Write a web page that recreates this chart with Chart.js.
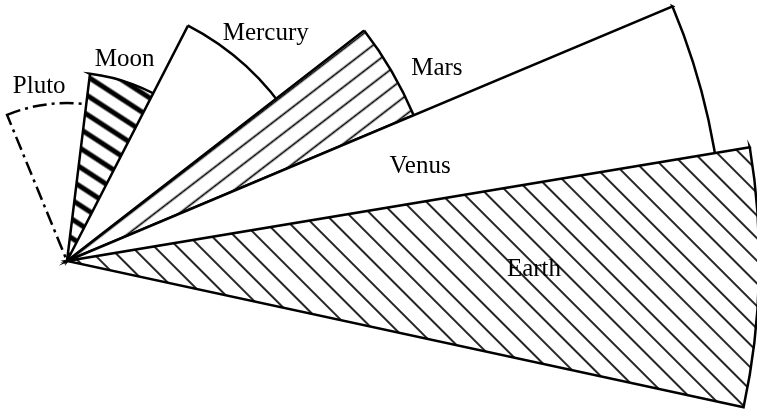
<!DOCTYPE html>
<html><head><meta charset="utf-8">
<script src="https://cdn.jsdelivr.net/npm/chart.js@4/dist/chart.umd.min.js"></script>
<style>
html,body{margin:0;padding:0;background:#fff;overflow:hidden;width:757px;height:410px;}
#wrap{position:absolute;left:-633px;top:-439px;width:1400px;height:1400px;}
</style></head><body>
<div id="wrap"><canvas id="c" width="1400" height="1400"></canvas></div>
<script>
// data
const planets = ['Earth', 'Venus', 'Mars', 'Mercury', 'Moon', 'Pluto'];
const diameters = [12756, 12104, 6930, 4879, 3475, 2910];
const fromDeg = [-12.2, 2, 22.8, 32, 56, 76];      // sector start (deg, counter-clockwise from east)
const toDeg = [9.45, 22.8, 37.8, 62.8, 83.0, 112.3]; // sector end
// label placement (angle in deg, radius as fraction of sector radius)
const labelDeg = [-1.84, 13.97, 26.7, 48.1, 73.5, 99.4];
const labelRadius = [0.675, 0.554, 1.101, 1.124, 1.076, 1.078];

const ORIGIN = 115; // reference angle where arcs start
const ctx = document.getElementById('c').getContext('2d');

function hatch(spacing, lw, deg) {
  const t = document.createElement('canvas');
  t.width = 8; t.height = spacing;
  const g = t.getContext('2d');
  g.fillStyle = '#fff'; g.fillRect(0, 0, 8, spacing);
  g.fillStyle = '#000'; g.fillRect(0, (spacing - lw) / 2, 8, lw);
  const p = ctx.createPattern(t, 'repeat');
  p.setTransform(new DOMMatrix().rotateSelf(deg));
  return p;
}
const fills = [
  hatch(16, 1.7, 45),
  '#ffffff',
  hatch(15, 1.7, -37.6),
  '#ffffff',
  hatch(16, 5, 33),
  '#ffffff'
];
const dashes = [[], [], [], [], [], [14, 5, 3, 5]];

const datasets = planets.map((name, i) => ({
  label: name,
  data: [0, diameters[i]],
  angle: (c) => c.dataIndex === 0 ? (ORIGIN - toDeg[i]) : (toDeg[i] - fromDeg[i]),
  backgroundColor: ['rgba(0,0,0,0)', fills[i]],
  borderColor: '#000',
  borderWidth: [0, 2.5],
  borderJoinStyle: 'miter',
  borderDash: dashes[i]
}));

const labelPlugin = {
  id: 'labels',
  afterDatasetsDraw(chart) {
    const c = chart.ctx;
    c.save();
    c.font = "25px 'Liberation Serif'";
    c.fillStyle = '#000';
    c.textAlign = 'center';
    c.textBaseline = 'alphabetic';
    planets.forEach((name, i) => {
      const el = chart.getDatasetMeta(i).data[1];
      const a = labelDeg[i] * Math.PI / 180;
      const r = el.outerRadius * labelRadius[i];
      c.fillText(name, el.x + r * Math.cos(a), el.y - r * Math.sin(a));
    });
    c.restore();
  }
};

new Chart(ctx, {
  type: 'polarArea',
  data: { labels: ['', ''], datasets },
  options: {
    responsive: false,
    animation: false,
    events: [],
    layout: { padding: 0 },
    plugins: { legend: { display: false }, tooltip: { enabled: false } },
    scales: {
      r: {
        min: 0, max: 12900,
        startAngle: 90 - ORIGIN,
        ticks: { display: false },
        grid: { display: false },
        angleLines: { display: false },
        pointLabels: { display: false }
      }
    }
  },
  plugins: [labelPlugin]
});
</script>
</body></html>
